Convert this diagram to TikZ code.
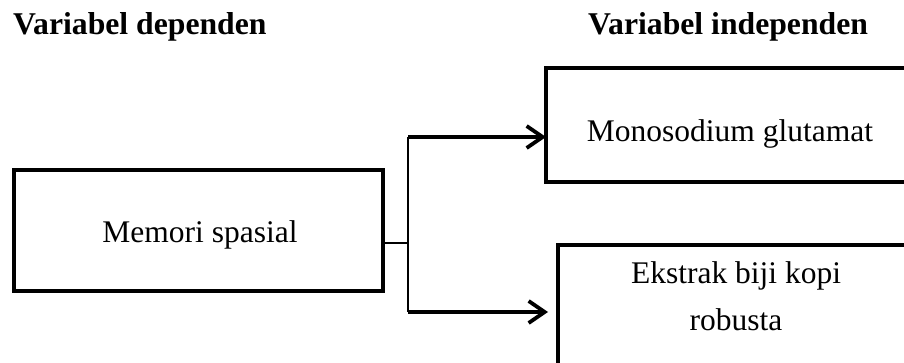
\documentclass[tikz,border=0pt]{standalone}
\usepackage{fontspec}
\setmainfont{Liberation Serif}
\usetikzlibrary{arrows.meta}
\begin{document}
\begin{tikzpicture}[x=1pt,y=-1pt,
  boxstyle/.style={draw=black, line width=3.5pt, inner sep=0pt, outer sep=0pt, anchor=north west},
  lbl/.style={font=\fontsize{31.5}{36}\selectfont, inner sep=0pt, anchor=base},
  ttl/.style={font=\fontsize{31.7}{36}\selectfont\bfseries, inner sep=0pt, anchor=base west},
  arr/.style={line width=3.8pt, -{Straight Barb[length=16pt,width=22pt,line width=3.8pt]}},
  thinline/.style={line width=1.8pt}]
\useasboundingbox (0,0) rectangle (904,363);
\clip (0,0) rectangle (904,363);
% titles
\node[ttl] (h1) at (13,35) {Variabel dependen};
\node[ttl] (h2) at (588,35) {Variabel independen};
% boxes
\node[boxstyle, minimum width=369pt, minimum height=121pt] (dep) at (14,170) {};
\node[lbl] (t1) at (200,243) {Memori spasial};
\node[boxstyle, minimum width=420pt, minimum height=114pt] (mono) at (546,68) {};
\node[lbl] (t2) at (730,142) {Monosodium glutamat};
\node[boxstyle, minimum width=420pt, minimum height=160pt] (eks) at (558,245) {};
\node[lbl] (t3) at (736,283) {Ekstrak biji kopi};
\node[lbl] (t4) at (736,330) {robusta};
% connectors
\coordinate (fork) at (408,243);
\coordinate (ftop) at (408,137);
\coordinate (fbot) at (408,312);
\draw[thinline] (dep.east |- fork) -- (fork);
\draw[thinline] (ftop) -- (fbot);
\draw[arr] (ftop) -- (mono.west |- ftop);
\draw[arr] (fbot) -- ([xshift=-10pt]eks.west |- fbot);
\end{tikzpicture}
\end{document}
